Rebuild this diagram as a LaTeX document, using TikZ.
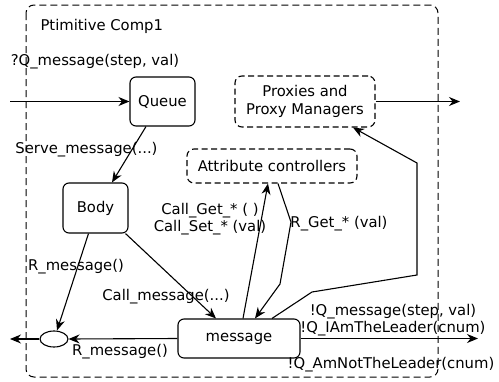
\documentclass[tikz,border=0pt]{standalone}
\usepackage{fontspec}
\setmainfont{DejaVu Sans}
\usetikzlibrary{arrows.meta,shapes.geometric}

\begin{document}
\begin{tikzpicture}[x=1pt,y=-1pt,line width=1.1pt,
  >={Stealth[length=11pt,width=9pt]},
  every node/.style={font=\fontsize{14.8}{17.5}\selectfont},
  block/.style={draw,rounded corners=6pt,minimum width=#1,inner sep=0pt},
  ctrl/.style={draw,dashed,dash pattern=on 6pt off 3.5pt,rounded corners=7pt,inner sep=0pt,align=center},
  lab/.style={inner sep=0pt,align=center}]
  \useasboundingbox (0,0) rectangle (499,381);
  \draw[dashed,dash pattern=on 7pt off 4pt,rounded corners=8pt,line width=1pt] (26,5) rectangle (438,377);
  \node [lab,anchor=west] (t) at (40,26) {Ptimitive Comp1};
  \node [block=65pt,minimum height=49pt] (q) at (162.5,101.5) {Queue};
  \node [ctrl,minimum width=140pt,minimum height=51pt] (p) at (305,101.5) {Proxies and\\Proxy Managers};
  \node [ctrl,minimum width=170pt,minimum height=34pt] (a) at (272,166) {Attribute controllers};
  \node [block=65pt,minimum height=50pt] (b) at (95.5,208) {Body};
  \node [block=122pt,minimum height=39pt] (m) at (239,338.5) {message};
  \node [draw,ellipse,minimum width=28pt,minimum height=16pt,inner sep=0pt] (e) at (54,339) {};
  \coordinate (in) at (10,101.5);
  \coordinate (po) at (460,101.5);
  \coordinate (mo) at (478,338.5);
  \coordinate (eo) at (10,339);
  \node [lab] (qm) at (95,62) {?Q\_message(step, val)};
  \node [lab] (sm) at (86.5,150) {Serve\_message(...)};
  \node [lab] (rb) at (76,267) {R\_message()};
  \node [lab] (cm) at (166,297) {Call\_message(...)};
  \node [lab] (rm) at (120,352) {R\_message()};
  \node [lab] (cg) at (210,219) {Call\_Get\_* ( )\\Call\_Set\_* (val)};
  \node [lab] (rg) at (339,224) {R\_Get\_* (val)};
  \node [lab] (o1) at (393,312) {!Q\_message(step, val)};
  \node [lab] (o2) at (393,329) {!Q\_IAmTheLeader(cnum)};
  \node [lab] (o3) at (391,365) {!Q\_AmNotTheLeader(cnum)};
  \draw [->] (in) -- (q.west);
  \draw [->] (p.east) -- (po);
  \draw [->] ([xshift=-16.5pt]q.south) -- ([xshift=16.5pt]b.north);
  \draw [->] ([xshift=-7pt]b.south) -- ([xshift=3pt]e.north);
  \draw [->] ([xshift=30pt]b.south) -- ([xshift=-23pt]m.north);
  \draw [->] (m.west) -- (e.east);
  \draw [->] (e.west) -- (eo);
  \draw [->] ([xshift=4pt]m.north) -- ([xshift=-4pt]a.south);
  \draw [->] ([xshift=6pt]a.south) -- (291,222) -- (280,284) -- ([xshift=16pt]m.north);
  \draw [->] ([xshift=33pt]m.north) -- (312,292) -- (417,275) -- (417,163) -- ([xshift=48pt]p.south);
  \draw [->] (m.east) -- (mo);
\end{tikzpicture}
\end{document}
